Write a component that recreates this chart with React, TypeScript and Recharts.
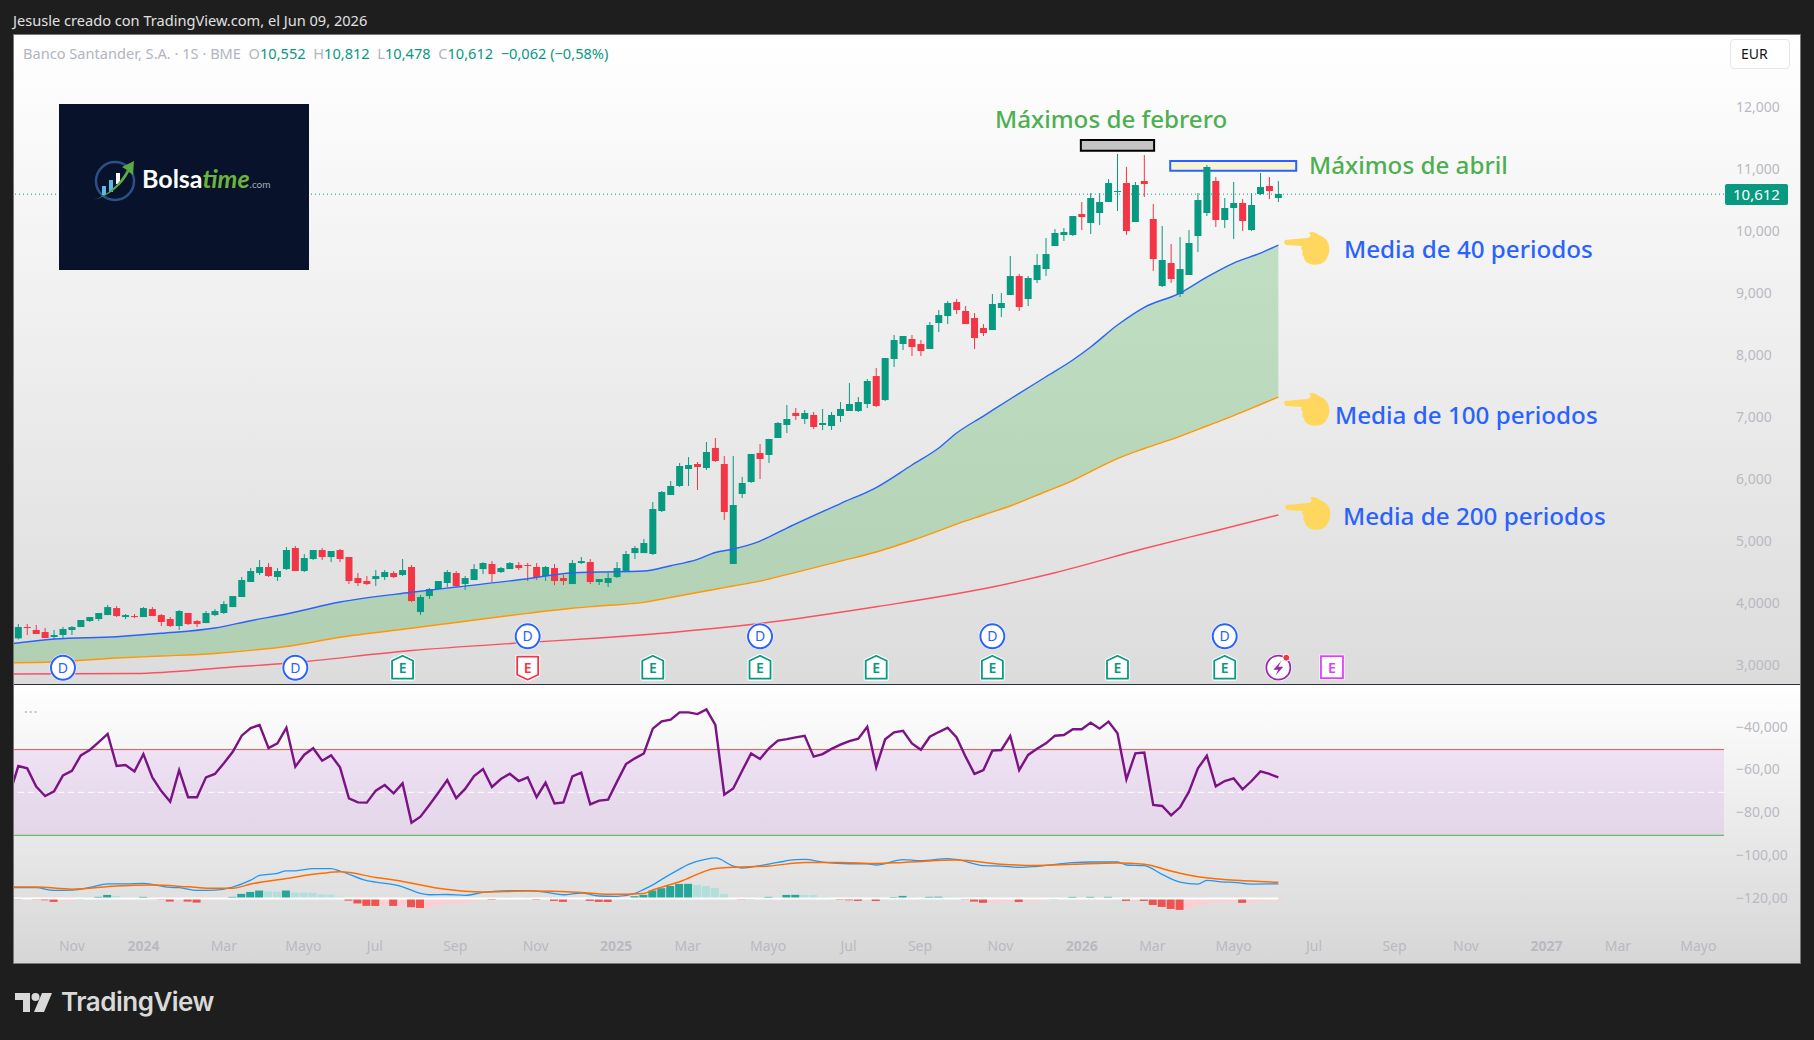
import {
  ComposedChart, Bar, Line, Area, XAxis, YAxis,
  ReferenceLine, ReferenceArea, ReferenceDot,
} from "recharts";

// weekly candles, Banco Santander (index = week number, 0 is the first visible bar)
const opens = [
  3.425, 3.608, 3.56, 3.527, 3.447, 3.479, 3.56, 3.608, 3.705, 3.737,
  3.801, 3.914, 3.769, 3.785, 3.769, 3.898, 3.801, 3.737, 3.624, 3.834,
  3.705, 3.672, 3.801, 3.834, 3.93, 4.092, 4.334, 4.479, 4.576, 4.414,
  4.543, 4.882, 4.511, 4.705, 4.85, 4.737, 4.85, 4.737, 4.398, 4.35,
  4.382, 4.414, 4.479, 4.447, 4.576, 3.85, 4.108, 4.221, 4.318, 4.479,
  4.301, 4.366, 4.543, 4.624, 4.495, 4.543, 4.608, 4.608, 4.576, 4.43,
  4.559, 4.398, 4.301, 4.64, 4.656, 4.334, 4.318, 4.414, 4.506, 4.801,
  4.801, 4.786, 5.479, 5.737, 5.883, 6.157, 6.237, 6.173, 6.496, 6.237,
  4.625, 5.754, 5.947, 6.415, 6.383, 6.657, 6.867, 7.06, 6.963, 7.028,
  6.867, 6.85, 7.012, 7.092, 7.092, 7.205, 7.656, 7.269, 7.931, 8.173,
  8.253, 8.173, 8.092, 8.511, 8.624, 8.85, 8.705, 8.592, 8.431, 8.398,
  8.753, 8.963, 9.269, 8.898, 9.205, 9.382, 9.753, 9.931, 9.931, 10.269,
  10.124, 10.286, 10.463, 10.624, 10.769, 10.14, 10.802, 10.189, 9.108, 9.479,
  8.979, 9.286, 9.915, 10.286, 10.802, 10.173, 10.366, 10.447, 10.011, 10.592,
  10.721, 10.528,
];
const highs = [
  3.656, 3.656, 3.64, 3.592, 3.56, 3.608, 3.624, 3.721, 3.769, 3.834,
  3.963, 3.947, 3.818, 3.818, 3.93, 3.93, 3.818, 3.769, 3.882, 3.834,
  3.721, 3.866, 3.898, 4.027, 4.108, 4.414, 4.559, 4.689, 4.64, 4.559,
  4.898, 4.914, 4.785, 4.85, 4.882, 4.834, 4.866, 4.737, 4.479, 4.43,
  4.527, 4.527, 4.511, 4.705, 4.608, 4.124, 4.237, 4.35, 4.527, 4.511,
  4.43, 4.624, 4.656, 4.672, 4.576, 4.656, 4.656, 4.64, 4.64, 4.592,
  4.624, 4.447, 4.689, 4.737, 4.705, 4.382, 4.479, 4.656, 4.834, 4.914,
  5.027, 5.625, 5.802, 5.963, 6.254, 6.35, 6.27, 6.592, 6.657, 6.366,
  6.366, 6.028, 6.399, 6.56, 6.641, 6.915, 7.189, 7.141, 7.108, 7.076,
  7.125, 7.076, 7.237, 7.544, 7.318, 7.608, 7.785, 7.947, 8.318, 8.302,
  8.318, 8.237, 8.527, 8.721, 8.866, 8.898, 8.785, 8.672, 8.495, 8.979,
  8.995, 9.592, 9.302, 9.269, 9.624, 9.882, 10.027, 10.044, 10.237, 10.463,
  10.608, 10.608, 10.834, 11.237, 11.028, 10.786, 11.221, 10.431, 10.076, 9.786,
  9.898, 10.011, 10.608, 11.06, 10.866, 10.528, 10.786, 10.511, 10.608, 10.931,
  10.866, 10.802,
];
const lows = [
  3.409, 3.479, 3.495, 3.43, 3.398, 3.425, 3.479, 3.608, 3.689, 3.705,
  3.801, 3.769, 3.737, 3.753, 3.769, 3.785, 3.624, 3.608, 3.56, 3.64,
  3.608, 3.672, 3.785, 3.818, 3.93, 4.092, 4.334, 4.447, 4.414, 4.35,
  4.527, 4.511, 4.495, 4.689, 4.689, 4.656, 4.656, 4.301, 4.269, 4.285,
  4.269, 4.366, 4.398, 4.43, 4.011, 3.801, 4.059, 4.221, 4.253, 4.253,
  4.205, 4.366, 4.463, 4.334, 4.479, 4.543, 4.527, 4.35, 4.366, 4.35,
  4.285, 4.285, 4.301, 4.624, 4.301, 4.285, 4.253, 4.398, 4.495, 4.705,
  4.801, 4.77, 5.463, 5.737, 5.866, 5.883, 5.818, 6.141, 6.27, 5.334,
  4.625, 5.689, 5.931, 5.995, 6.254, 6.657, 6.737, 6.947, 6.883, 6.802,
  6.786, 6.786, 6.915, 7.092, 7.076, 7.14, 7.156, 7.253, 7.802, 8.076,
  7.979, 7.979, 8.092, 8.366, 8.495, 8.656, 8.495, 8.092, 8.302, 8.398,
  8.608, 8.963, 8.705, 8.785, 9.156, 9.269, 9.753, 9.834, 9.915, 10.011,
  9.947, 10.092, 10.463, 10.318, 9.931, 10.14, 10.544, 9.35, 9.092, 9.157,
  8.931, 9.286, 9.657, 10.237, 10.06, 10.044, 9.866, 9.995, 9.995, 10.576,
  10.511, 10.463,
];
const closes = [
  3.608, 3.592, 3.495, 3.43, 3.479, 3.576, 3.608, 3.721, 3.769, 3.834,
  3.93, 3.785, 3.801, 3.769, 3.914, 3.785, 3.689, 3.624, 3.866, 3.656,
  3.656, 3.834, 3.866, 3.979, 4.108, 4.366, 4.511, 4.576, 4.43, 4.511,
  4.85, 4.511, 4.721, 4.85, 4.737, 4.834, 4.705, 4.35, 4.318, 4.301,
  4.43, 4.495, 4.414, 4.527, 4.027, 4.092, 4.221, 4.35, 4.495, 4.269,
  4.398, 4.543, 4.64, 4.463, 4.559, 4.64, 4.559, 4.592, 4.414, 4.576,
  4.35, 4.35, 4.64, 4.672, 4.334, 4.382, 4.398, 4.559, 4.785, 4.882,
  4.963, 5.512, 5.786, 5.883, 6.205, 6.221, 6.189, 6.431, 6.286, 5.463,
  5.576, 5.931, 6.399, 6.318, 6.641, 6.899, 6.963, 7.012, 7.06, 6.834,
  6.899, 7.028, 7.125, 7.205, 7.237, 7.576, 7.173, 7.947, 8.237, 8.302,
  8.124, 8.06, 8.479, 8.64, 8.834, 8.721, 8.495, 8.269, 8.35, 8.818,
  8.834, 9.269, 8.769, 9.237, 9.447, 9.624, 9.963, 9.979, 10.237, 10.221,
  10.528, 10.463, 10.769, 10.64, 9.995, 10.737, 10.753, 9.544, 9.528, 9.221,
  9.382, 9.802, 10.495, 11.028, 10.173, 10.366, 10.447, 10.157, 10.415, 10.705,
  10.64, 10.592,
];

// moving averages, read at these weeks (-1 sits just left of the pane)
const maWeeks = [
  -1, 4, 11, 16, 22, 26, 30, 36, 44, 49, 57, 62, 65, 70, 73, 76, 78, 80, 83, 86,
  92, 96, 100, 103, 105, 108, 111, 115, 118, 120, 123, 126, 130, 133, 136, 139, 141,
];
const ma40 = [
  3.334, 3.415, 3.452, 3.507, 3.592, 3.71, 3.818, 4.011, 4.168, 4.253, 4.387, 4.484, 4.495, 4.511, 4.597, 4.7, 4.81, 4.866, 4.995, 5.205,
  5.6, 5.858, 6.221, 6.495, 6.737, 7.011, 7.286, 7.645, 7.915, 8.125, 8.479, 8.765, 8.995, 9.253, 9.479, 9.64, 9.769,
];
const ma100 = [
  3.031, 3.044, 3.108, 3.14, 3.182, 3.231, 3.294, 3.442, 3.589, 3.682, 3.829, 3.91, 3.947, 4.006, 4.084, 4.165, 4.218, 4.269, 4.348, 4.454,
  4.671, 4.818, 5.003, 5.16, 5.269, 5.415, 5.56, 5.794, 5.971, 6.116, 6.323, 6.487, 6.684, 6.85, 7.019, 7.197, 7.317,
];
const ma200Weeks = [-1, 13, 24, 30, 44, 56, 65, 70, 82, 96, 109, 116, 126, 134, 141];
const ma200 = [2.85, 2.858, 2.963, 3.023, 3.229, 3.35, 3.431, 3.484, 3.648, 3.935, 4.253, 4.484, 4.874, 5.161, 5.415];

// lower pane, in units of its own axis
const rsi = [
  -58.4, -59.5, -68.0, -72.4, -70.2, -62.8, -60.6, -53.4, -50.9, -47.2,
  -43.4, -58.4, -57.9, -60.9, -52.8, -63.7, -70.1, -75.1, -60.3, -73.0,
  -73.0, -63.7, -62.1, -57.1, -51.7, -44.2, -40.6, -39.2, -50.0, -47.8,
  -40.5, -58.7, -53.1, -50.1, -55.9, -53.4, -59.0, -73.5, -75.4, -75.5,
  -69.9, -67.3, -71.2, -66.5, -84.9, -82.1, -76.6, -70.9, -65.0, -73.4,
  -69.1, -63.1, -59.8, -68.2, -64.5, -62.0, -65.4, -63.7, -73.0, -66.2,
  -75.9, -75.4, -63.2, -61.5, -76.3, -74.6, -74.1, -65.7, -57.5, -54.8,
  -52.5, -40.9, -37.5, -36.7, -33.3, -33.3, -34.1, -31.9, -39.2, -71.8,
  -68.9, -60.6, -52.5, -55.1, -50.1, -46.5, -45.8, -45.0, -44.3, -54.0,
  -52.8, -50.4, -48.4, -46.7, -45.6, -40.0, -59.0, -45.9, -42.6, -41.9,
  -47.8, -50.8, -44.7, -42.5, -40.5, -45.0, -54.0, -62.1, -60.3, -51.2,
  -50.9, -44.3, -60.3, -53.2, -50.3, -47.8, -44.2, -43.9, -41.2, -41.2,
  -38.1, -40.9, -37.6, -43.1, -64.6, -52.5, -52.1, -76.6, -77.1, -81.5,
  -77.7, -70.4, -59.5, -53.6, -67.9, -65.4, -64.2, -69.3, -65.4, -60.9,
  -62.1, -63.7,
];
const rsiBefore = -72;

const macdWeeks = [
  -1, 2, 4, 6, 8, 10, 12, 14, 17, 18, 20, 22, 24, 26, 27, 29, 30, 31, 33, 35, 36, 39, 40, 42, 43, 45, 46, 48, 50, 52,
  55, 57, 59, 61, 63, 65, 67, 69, 70, 71, 72, 74, 75, 77, 78, 80, 81, 83, 85, 87, 88, 90, 93, 95, 96, 99, 101, 104, 105, 108,
  110, 112, 114, 118, 120, 123, 124, 126, 128, 130, 132, 133, 135, 136, 138, 141,
];
const macd = [
  -115.2, -115.3, -116.6, -116.4, -115.2, -113.5, -113.5, -113.3, -115.2, -115.3, -116.6, -116.4, -115.0, -111.8, -109.6, -108.6, -107.4, -107.4, -106.4, -106.4, -107.5, -112.0, -112.7, -113.9, -114.9, -118.0, -118.6, -118.5, -118.9, -117.5,
  -116.7, -116.7, -117.4, -118.6, -117.8, -119.2, -119.4, -118.0, -116.1, -114.0, -111.4, -106.6, -104.4, -101.9, -101.4, -105.2, -106.1, -105.0, -103.5, -102.2, -102.1, -103.3, -104.1, -104.1, -104.7, -102.2, -102.7, -101.7, -102.1, -105.0,
  -105.2, -105.8, -105.3, -103.6, -103.3, -103.3, -104.7, -105.0, -109.1, -112.7, -113.6, -111.9, -112.7, -112.8, -113.6, -113.5,
];
const signalWeeks = [
  -1, 2, 6, 11, 15, 19, 22, 24, 26, 30, 34, 36, 40, 43, 47, 50, 52, 57, 63, 66,
  70, 71, 74, 78, 80, 84, 88, 92, 96, 99, 105, 110, 114, 118, 123, 126, 129, 132, 138, 141,
];
const signal = [
  -115.0, -115.0, -116.0, -114.5, -114.1, -114.9, -115.6, -115.6, -113.6, -111.0, -108.6, -107.9, -110.5, -112.4, -115.6, -117.0, -117.3, -116.9, -117.6, -118.4,
  -118.0, -116.4, -112.5, -106.3, -105.8, -105.2, -103.5, -103.5, -104.0, -103.5, -102.4, -104.3, -104.9, -104.4, -103.8, -104.3, -107.5, -110.2, -112.2, -112.8,
];
const histZero = -120.4;
const hist = [
  -0.15, -0.15, -0.45, -0.8, -1.55, -1.1, -1.1, 0.15, 0.3, 0.8,
  1.7, 1.25, 0.6, 0.5, 0.8, 0.3, -0.45, -1.4, -0.8, -1.4,
  -1.9, -1.1, -0.6, -0.15, 0.8, 2.2, 3.1, 3.75, 3.3, 3.25,
  3.75, 2.8, 2.75, 2.7, 1.9, 1.85, 0.8, -0.95, -2.3, -3.4,
  -3.45, -3.0, -3.45, -3.3, -4.05, -4.4, -4.35, -3.3, -2.5, -2.3,
  -2.3, -1.55, -0.6, -0.65, 0.3, 0.35, 0.3, 0.35, -0.6, -0.3,
  -1.1, -1.55, -0.8, -0.15, -1.1, -1.55, -1.6, -0.8, 0.2, 1.1,
  1.7, 3.75, 4.85, 5.9, 6.85, 6.9, 6.4, 5.9, 5.0, 2.2,
  0.2, -0.3, 0.15, 0.3, 0.8, 0.8, 1.7, 1.75, 1.7, 1.65,
  0.7, 0.15, -0.6, -0.8, -1.1, -0.5, -1.15, 0.2, 0.7, 1.25,
  0.6, 0.15, 0.8, 0.85, 0.8, 0.45, -0.45, -1.4, -2.0, -1.95,
  -1.9, -1.4, -1.6, -1.25, -1.1, -0.6, 0.15, 0.3, 0.8, 0.45,
  0.8, 0.35, 0.8, 0.15, -1.1, -0.95, -1.1, -3.0, -3.9, -4.85,
  -5.3, -4.85, -3.6, -2.5, -2.0, -1.7, -1.55, -2.0, -1.9, -1.25,
  -1.1, -1.1,
];

const priceTicks = [3, 4, 5, 6, 7, 8, 9, 10, 11, 12];
const priceLabels = ["3,0000", "4,0000", "5,000", "6,000", "7,000", "8,000", "9,000", "10,000", "11,000", "12,000"];
const lowerTicks = [-120, -100, -80, -60, -40];
const lowerLabels = ["−120,00", "−100,00", "−80,00", "−60,00", "−40,000"];
const timeTicks = [
  6, 14, 23, 31.9, 39.9, 48.9, 57.9, 66.9, 74.9, 83.9, 92.9, 100.9, 109.9, 119, 126.9,
  136, 145, 154, 162, 171, 179, 188,
];
const timeLabels = [
  "Nov", "2024", "Mar", "Mayo", "Jul", "Sep", "Nov", "2025", "Mar", "Mayo", "Jul", "Sep", "Nov", "2026", "Mar",
  "Mayo", "Jul", "Sep", "Nov", "2027", "Mar", "Mayo",
];

const lastClose = 10.59;
const rsiUpper = -50.7;
const rsiMiddle = -70.7;
const rsiLower = -90.8;
const dividendLow = [5, 31];
const dividendHigh = [57, 83, 109, 135];
const earningsUp = [43, 71, 83, 96, 109, 123, 135];
const earningsDown = [57];
const laneLow = 2.952;
const laneHigh = 3.458;

const GREEN = "#089981";
const RED = "#f23645";
const BLUE = "#2962ff";
const FONT = "'Noto Sans', sans-serif";
const AXIS_GREY = "#b8bac2";

const priceRows: any[] = [];
for (let w = -1; w <= 147; w++) {
  const row: any = { week: w };
  if (w >= 0 && w < opens.length) {
    row.open = opens[w];
    row.high = highs[w];
    row.low = lows[w];
    row.close = closes[w];
  }
  const k = maWeeks.indexOf(w);
  if (k >= 0) {
    row.ma40 = ma40[k];
    row.ma100 = ma100[k];
    row.band = [ma100[k], ma40[k]];
  }
  const k2 = ma200Weeks.indexOf(w);
  if (k2 >= 0) row.ma200 = ma200[k2];
  priceRows.push(row);
}

const lowerRows: any[] = [];
for (let w = -1; w < rsi.length; w++) {
  const row: any = { week: w, rsi: w < 0 ? rsiBefore : rsi[w] };
  const k = macdWeeks.indexOf(w);
  if (k >= 0) row.macd = macd[k];
  const k2 = signalWeeks.indexOf(w);
  if (k2 >= 0) row.signal = signal[k2];
  if (w >= 0) {
    const v = hist[w];
    const prev = w > 0 ? hist[w - 1] : 0;
    row.hist = v >= 0 ? [histZero, histZero + v] : [histZero + v, histZero];
    if (v >= 0) row.histColor = v > prev ? "#26a69a" : "#b2dfdb";
    else row.histColor = v < prev ? "#ef5350" : "#ffcdd2";
  }
  lowerRows.push(row);
}

function Candle(props: any) {
  const { x, y, width, height, payload } = props;
  if (payload.high == null || !height) return null;
  const k = height / (payload.high - payload.low);
  const up = payload.close >= payload.open;
  const color = up ? GREEN : RED;
  const top = y + (payload.high - Math.max(payload.open, payload.close)) * k;
  const bodyH = Math.max(Math.abs(payload.open - payload.close) * k, 1);
  const cx = x + width / 2;
  return (
    <g>
      <line x1={cx} x2={cx} y1={y} y2={y + height} stroke={color} strokeWidth={1} />
      <rect x={x} y={top} width={width} height={bodyH} fill={color} />
    </g>
  );
}

function HistBar(props: any) {
  const { x, y, width, height, payload } = props;
  if (!payload.histColor) return null;
  return <rect x={x} y={y} width={width} height={Math.max(height, 1)} fill={payload.histColor} />;
}

function DividendMark(props: any) {
  const { cx, cy } = props;
  return (
    <g>
      <circle cx={cx} cy={cy} r={13.5} fill="#fff" />
      <circle cx={cx} cy={cy} r={12} fill="#fff" stroke={BLUE} strokeWidth={2} />
      <text x={cx} y={cy + 5} textAnchor="middle" fontSize={14} fontFamily={FONT} fill={BLUE}>D</text>
    </g>
  );
}

function EarningsMark(props: any) {
  const { cx, cy, color, down } = props;
  const outline = down
    ? `M${cx - 10.5} ${cy - 11} H${cx + 10.5} V${cy + 7} L${cx} ${cy + 12} L${cx - 10.5} ${cy + 7} Z`
    : `M${cx - 10.5} ${cy + 11} H${cx + 10.5} V${cy - 7} L${cx} ${cy - 12} L${cx - 10.5} ${cy - 7} Z`;
  return (
    <g>
      <path d={outline} fill="#fff" stroke="#fff" strokeWidth={4} strokeLinejoin="round" />
      <path d={outline} fill="#fff" stroke={color} strokeWidth={1.8} strokeLinejoin="round" />
      <text x={cx} y={cy + 5.5} textAnchor="middle" fontSize={14} fontWeight={600} fontFamily={FONT} fill={color}>E</text>
    </g>
  );
}

function SplitMark(props: any) {
  const { cx, cy } = props;
  return (
    <g>
      <circle cx={cx} cy={cy} r={13.5} fill="#fff" />
      <circle cx={cx} cy={cy} r={12} fill="#fff" stroke="#9c27b0" strokeWidth={1.8} />
      <path d={`M${cx + 3} ${cy - 7} L${cx - 5} ${cy + 2} H${cx} L${cx - 3} ${cy + 8} L${cx + 5} ${cy - 1} H${cx} Z`} fill="#9c27b0" />
      <circle cx={cx + 8} cy={cy - 10} r={3.5} fill={RED} stroke="#fff" />
    </g>
  );
}

function FutureEarningsMark(props: any) {
  const { cx, cy } = props;
  return (
    <g>
      <rect x={cx - 11.5} y={cy - 12} width={23} height={23} fill="#fff" stroke="#fff" strokeWidth={2} />
      <rect x={cx - 11} y={cy - 11.5} width={22} height={22} fill="#fff" stroke="#e040fb" strokeWidth={1.8} />
      <text x={cx} y={cy + 5} textAnchor="middle" fontSize={14} fontWeight={600} fontFamily={FONT} fill="#e040fb">E</text>
    </g>
  );
}

function TimeTick(props: any) {
  const { x, y, payload } = props;
  const label = timeLabels[timeTicks.indexOf(payload.value)];
  const isYear = label && label.length === 4 && label[0] === "2";
  return (
    <text x={x} y={y + 13} textAnchor="middle" fontSize={14} fontWeight={isYear ? 700 : 400} fontFamily={FONT} fill={AXIS_GREY}>
      {label}
    </text>
  );
}

function Hand({ x, y }: { x: number; y: number }) {
  return (
    <svg style={{ position: "absolute", left: x, top: y }} width={48} height={36} viewBox="0 0 48 36">
      <path
        fill="#ffd75e"
        d="M2 9 Q0 12 3 14 L19 15 Q17 18 20 20 Q18 24 21 26 Q21 31 27 33 Q42 37 46 22 Q48 8 36 4 Q30 -1 26 2 Q30 5 24 7 Q12 8 2 9 Z"
      />
    </svg>
  );
}

const label = (x: number, y: number, text: string, color: string, size = 24.2) => (
  <div
    style={{
      position: "absolute", left: x, top: y - 20, height: 40, lineHeight: "40px",
      fontFamily: FONT, fontSize: size, fontWeight: 500, color, whiteSpace: "nowrap",
    }}
  >
    {text}
  </div>
);

export default function App() {
  const xDomain = [-0.593, 190.87];
  return (
    <div style={{ position: "absolute", left: 0, top: 0, width: 1814, height: 1040, background: "#1e1e1e", overflow: "hidden" }}>
      <style>{"body{margin:0;background:#1e1e1e}"}</style>
      <div style={{ position: "absolute", left: 13, top: 10, fontFamily: FONT, fontSize: 14.6, color: "#e0e0e0", whiteSpace: "nowrap" }}>
        Jesusle creado con TradingView.com, el Jun 09, 2026
      </div>

      <div style={{ position: "absolute", left: 13, top: 34, width: 1788, height: 650, background: "linear-gradient(#ffffff, #dcdcdc)" }} />
      <div style={{ position: "absolute", left: 13, top: 684, width: 1788, height: 280, background: "linear-gradient(#ffffff, #d6d6d6)" }} />

      <div style={{ position: "absolute", left: 13, top: 34 }}>
        <ComposedChart width={1788} height={650} data={priceRows} margin={{ top: 0, right: 0, bottom: 0, left: 0 }}>
          <XAxis dataKey="week" type="number" domain={xDomain} allowDataOverflow hide />
          <YAxis
            orientation="right"
            width={77}
            domain={[2.689, 13.173]}
            ticks={priceTicks}
            interval={0}
            axisLine={false}
            tickLine={false}
            tickMargin={12}
            tickSize={0}
            tick={{ fontSize: 14, fontFamily: FONT, fill: AXIS_GREY }}
            tickFormatter={(v: number) => priceLabels[priceTicks.indexOf(v)]}
          />
          <ReferenceLine y={lastClose} stroke={GREEN} strokeDasharray="1 3" />
          <Bar
            dataKey={(d: any) => (d.high == null ? null : [d.low, d.high])}
            barSize={7}
            shape={<Candle />}
            isAnimationActive={false}
          />
          <Area type="monotone" dataKey="band" stroke="none" fill="#4caf50" fillOpacity={0.3} connectNulls dot={false} activeDot={false} isAnimationActive={false} />
          <Line type="monotone" dataKey="ma40" stroke={BLUE} strokeWidth={1.4} connectNulls dot={false} isAnimationActive={false} />
          <Line type="monotone" dataKey="ma100" stroke="#ff9800" strokeWidth={1.4} connectNulls dot={false} isAnimationActive={false} />
          <Line type="monotone" dataKey="ma200" stroke="#f7525f" strokeWidth={1.4} connectNulls dot={false} isAnimationActive={false} />
          <ReferenceArea x1={118.9} x2={127.1} y1={11.29} y2={11.463} fill="#c4c4c4" fillOpacity={1} stroke="#000" strokeWidth={2} />
          <ReferenceArea x1={128.9} x2={143} y1={10.968} y2={11.124} fill="#f8f3d5" fillOpacity={1} stroke={BLUE} strokeWidth={2} />
          {dividendLow.map((w) => (
            <ReferenceDot key={`dl${w}`} x={w} y={laneLow} shape={<DividendMark />} />
          ))}
          {dividendHigh.map((w) => (
            <ReferenceDot key={`dh${w}`} x={w} y={laneHigh} shape={<DividendMark />} />
          ))}
          {earningsUp.map((w) => (
            <ReferenceDot key={`eu${w}`} x={w} y={laneLow} shape={<EarningsMark color={GREEN} />} />
          ))}
          {earningsDown.map((w) => (
            <ReferenceDot key={`ed${w}`} x={w} y={laneLow} shape={<EarningsMark color={RED} down />} />
          ))}
          <ReferenceDot x={141} y={laneLow} shape={<SplitMark />} />
          <ReferenceDot x={147} y={laneLow} shape={<FutureEarningsMark />} />
        </ComposedChart>
      </div>

      <div style={{ position: "absolute", left: 13, top: 684, width: 1788, height: 1, background: "#2a2e39" }} />

      <div style={{ position: "absolute", left: 13, top: 685 }}>
        <ComposedChart width={1788} height={279} data={lowerRows} margin={{ top: 0, right: 0, bottom: 0, left: 0 }}>
          <XAxis
            dataKey="week"
            type="number"
            domain={xDomain}
            allowDataOverflow
            ticks={timeTicks}
            interval={0}
            height={34}
            axisLine={false}
            tickLine={false}
            tick={<TimeTick />}
          />
          <YAxis
            orientation="right"
            width={77}
            domain={[-135.1, -20.49]}
            ticks={lowerTicks}
            interval={0}
            axisLine={false}
            tickLine={false}
            tickMargin={12}
            tickSize={0}
            tick={{ fontSize: 14, fontFamily: FONT, fill: AXIS_GREY }}
            tickFormatter={(v: number) => lowerLabels[lowerTicks.indexOf(v)]}
          />
          <ReferenceArea y1={rsiLower} y2={rsiUpper} fill="#b030f0" fillOpacity={0.1} stroke="none" />
          <ReferenceLine y={rsiUpper} stroke="#ef5350" />
          <ReferenceLine y={rsiMiddle} stroke="#fff" strokeDasharray="6 4" />
          <ReferenceLine y={rsiLower} stroke="#4caf50" />
          <ReferenceLine segment={[{ x: -0.593, y: histZero }, { x: 141, y: histZero }]} stroke="#fff" strokeWidth={2} />
          <Bar dataKey="hist" barSize={8} shape={<HistBar />} isAnimationActive={false} />
          <Line type="monotone" dataKey="macd" stroke="#2196f3" strokeWidth={1.3} connectNulls dot={false} isAnimationActive={false} />
          <Line type="monotone" dataKey="signal" stroke="#ff6d00" strokeWidth={1.5} connectNulls dot={false} isAnimationActive={false} />
          <Line dataKey="rsi" stroke="#7b1385" strokeWidth={2.4} dot={false} isAnimationActive={false} />
        </ComposedChart>
      </div>

      <div style={{ position: "absolute", left: 13, top: 34, width: 1788, height: 930, boxSizing: "border-box", border: "1px solid #777", pointerEvents: "none" }} />

      <div style={{ position: "absolute", left: 23, top: 43, fontFamily: FONT, fontSize: 14.6, color: "#b2b5be", whiteSpace: "nowrap" }}>
        Banco Santander, S.A. · 1S · BME{"\u00a0\u00a0"}O<span style={{ color: GREEN }}>10,552</span>{"\u00a0\u00a0"}H<span style={{ color: GREEN }}>10,812</span>{"\u00a0\u00a0"}L<span style={{ color: GREEN }}>10,478</span>{"\u00a0\u00a0"}C<span style={{ color: GREEN }}>10,612</span>{"\u00a0\u00a0"}<span style={{ color: GREEN }}>−0,062 (−0,58%)</span>
      </div>
      <div style={{ position: "absolute", left: 24, top: 698, fontFamily: FONT, fontSize: 14, color: "#b2b5be", letterSpacing: 1 }}>...</div>

      <div style={{ position: "absolute", left: 1730, top: 39, width: 60, height: 30, boxSizing: "border-box", background: "#fff", border: "1px solid #e6e6e6", borderRadius: 4, fontFamily: FONT, fontSize: 14, lineHeight: "28px", color: "#131722", paddingLeft: 10 }}>
        EUR
      </div>
      <div style={{ position: "absolute", left: 1725, top: 184, width: 63, height: 21, background: GREEN, color: "#fff", fontFamily: FONT, fontSize: 15, lineHeight: "21px", textAlign: "center", borderRadius: 2 }}>
        10,612
      </div>

      <div style={{ position: "absolute", left: 59, top: 104, width: 250, height: 166, background: "#08122a" }}>
        <svg style={{ position: "absolute", left: 32, top: 52 }} width={54} height={54} viewBox="0 0 54 54">
          <circle cx="24" cy="25" r="19" fill="none" stroke="#2b4f86" strokeWidth="2.5" />
          <rect x="11" y="30" width="4" height="9" fill="#5cb8e6" />
          <rect x="18" y="24" width="4" height="12" fill="#5cb8e6" />
          <rect x="25" y="17" width="4" height="11" fill="#ffffff" />
          <path d="M3 44 Q24 36 36 14 L31 11 L43 5 L42 19 L38 16 Q28 36 3 44 Z" fill="#5aa846" />
        </svg>
        <div style={{ position: "absolute", left: 83, top: 59, fontFamily: "Lato, sans-serif", fontSize: 25, fontWeight: 700, color: "#fff", whiteSpace: "nowrap" }}>
          Bolsa<span style={{ color: "#6cb33f", fontStyle: "italic" }}>time</span><span style={{ color: "#a5adbb", fontSize: 10, fontWeight: 400 }}>.com</span>
        </div>
      </div>

      {label(995, 119, "Máximos de febrero", "#4caf50")}
      {label(1309, 165, "Máximos de abril", "#4caf50")}
      {label(1344, 249, "Media de 40 periodos", BLUE)}
      {label(1335, 415, "Media de 100 periodos", BLUE)}
      {label(1343, 516, "Media de 200 periodos", BLUE)}
      <Hand x={1283} y={231} />
      <Hand x={1283} y={392} />
      <Hand x={1284} y={496} />

      <svg style={{ position: "absolute", left: 15, top: 992 }} width={38} height={22} viewBox="0 0 38 22">
        <path fill="#d9d9d9" d="M0 1 H15 V20 H8 V8 H0 Z" />
        <circle cx="20.5" cy="5" r="4" fill="#d9d9d9" />
        <path fill="#d9d9d9" d="M27 1 H37 L29 20 H19 Z" />
      </svg>
      <div style={{ position: "absolute", left: 61, top: 986, fontFamily: "Inter, sans-serif", fontSize: 26, fontWeight: 600, color: "#d9d9d9", whiteSpace: "nowrap", letterSpacing: -0.5 }}>
        TradingView
      </div>
    </div>
  );
}
